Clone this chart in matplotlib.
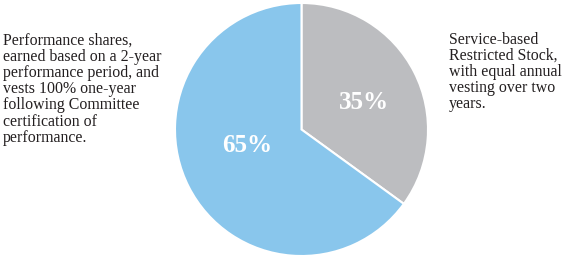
import matplotlib
matplotlib.use("Agg")
import matplotlib.pyplot as plt

labels = ["Service-based Restricted Stock", "Performance shares"]
values = [35, 65]
colors = ["#BCBDC0", "#89C6EC"]
pct_labels = ["35%", "65%"]

left_text = ("Performance shares,\nearned based on a 2-year\nperformance period, and\n"
             "vests 100% one-year\nfollowing Committee\ncertification of\nperformance.")
right_text = ("Service-based\nRestricted Stock,\nwith equal annual\nvesting over two\nyears.")

W, H = 564, 258
fig = plt.figure(figsize=(W / 100, H / 100), dpi=100)
fig.patch.set_facecolor("white")

cx, cy, r = 301.5, 258 - 129.5, 126.5
ax = fig.add_axes([(cx - r) / W, (cy - r) / H, 2 * r / W, 2 * r / H])
wedges, _ = ax.pie(values, colors=colors, startangle=90, counterclock=False,
                   wedgeprops=dict(edgecolor="white", linewidth=1.5))
ax.set_xlim(-1, 1)
ax.set_ylim(-1, 1)
ax.set_aspect("equal")
ax.axis("off")

pos = [((363.5 - cx) / r, (cy - (258 - 102.5)) / -r), ((247 - cx) / r, (cy - (258 - 146)) / -r)]
for (x, y), t in zip(pos, pct_labels):
    ax.text(x, y, t, ha="center", va="center", color="white", fontsize=18,
            fontweight="bold", family="Liberation Serif")

fig.text(3 / W, 1 - 33 / H, left_text, ha="left", va="top", fontsize=11.45,
         family="Liberation Serif", linespacing=1.01, color="#231F20")
fig.text(449 / W, 1 - 32 / H, right_text, ha="left", va="top", fontsize=11.45,
         family="Liberation Serif", linespacing=1.01, color="#231F20")

fig.savefig("out.png", dpi=100)
